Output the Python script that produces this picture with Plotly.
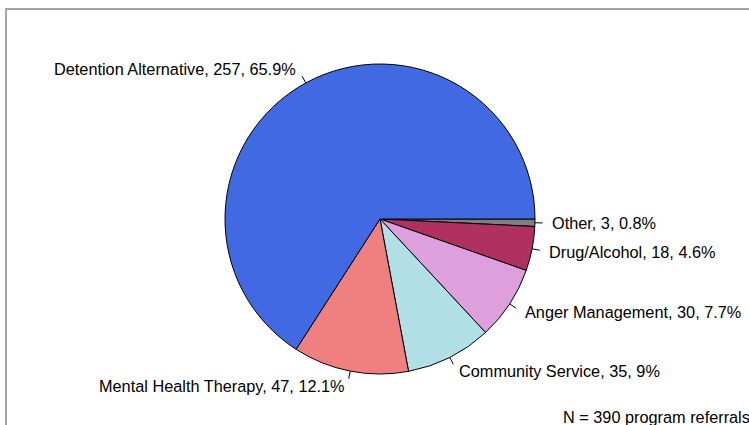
import math
import plotly.graph_objects as go

# slices, listed clockwise starting at 3 o'clock
programs = ["Other", "Drug/Alcohol", "Anger Management", "Community Service",
            "Mental Health Therapy", "Detention Alternative"]
referrals = [3, 18, 30, 35, 47, 257]
colors = ["#808080", "#B03060", "#DDA0DD", "#B0E0E6", "#F08080", "#4169E1"]
note = "N = 390 program referrals"

W, H = 749, 425
cx, cy, r = 380, 219, 155  # pie centre / radius in pixels
font = "Liberation Sans, Arial, sans-serif"
fsize = 16.3

total = sum(referrals)

fig = go.Figure()
fig.add_trace(go.Pie(
    labels=programs,
    values=referrals,
    marker=dict(colors=colors, line=dict(color="black", width=1)),
    sort=False,
    direction="clockwise",
    rotation=90,
    textinfo="none",
    hoverinfo="none",
    showlegend=False,
    domain=dict(x=[(cx - r) / W, (cx + r) / W],
                y=[1 - (cy + r) / H, 1 - (cy - r) / H]),
))

# R-style labels: short tick at each slice midpoint, text just outside
annotations = []
shapes = []
cum = 0
for name, v in zip(programs, referrals):
    mid = (cum + v / 2) / total * 2 * math.pi
    cum += v
    dx, dy = math.cos(mid), math.sin(mid)  # clockwise from east, y down
    shapes.append(dict(type="line", xref="x", yref="y",
                       x0=cx + r * dx, y0=cy + r * dy,
                       x1=cx + 1.05 * r * dx, y1=cy + 1.05 * r * dy,
                       line=dict(color="black", width=1)))
    pct = round(100 * v / total, 1)
    annotations.append(dict(
        x=cx + 1.1 * r * dx, y=cy + 1.1 * r * dy, xref="x", yref="y",
        text=f"{name}, {v}, {pct:g}%", showarrow=False,
        xanchor="left" if dx > 0 else "right", yanchor="middle",
        font=dict(family=font, size=fsize, color="black"),
    ))

# footnote, partly cut off at the right edge like the original
annotations.append(dict(x=1, y=1 - 417 / H, xref="paper", yref="paper",
                        xshift=3, text=note, showarrow=False,
                        xanchor="right", yanchor="middle",
                        font=dict(family=font, size=fsize, color="black")))

# grey frame, clipped by the page on the right and bottom
shapes.append(dict(type="rect", xref="x", yref="y", x0=6, y0=9, x1=800, y1=500,
                   line=dict(color="#888888", width=1.5), layer="below"))

fig.update_layout(
    width=W, height=H,
    margin=dict(l=0, r=0, t=0, b=0),
    paper_bgcolor="white", plot_bgcolor="white",
    xaxis=dict(range=[0, W], visible=False, fixedrange=True),
    yaxis=dict(range=[H, 0], visible=False, fixedrange=True),
    shapes=shapes,
    annotations=annotations,
)

# drop the browser's default page margin so the figure sits at (0, 0)
fig.write_html("out.html", config={"displayModeBar": False},
               post_script="document.body.style.margin='0';"
                           "document.body.style.overflow='hidden';")
